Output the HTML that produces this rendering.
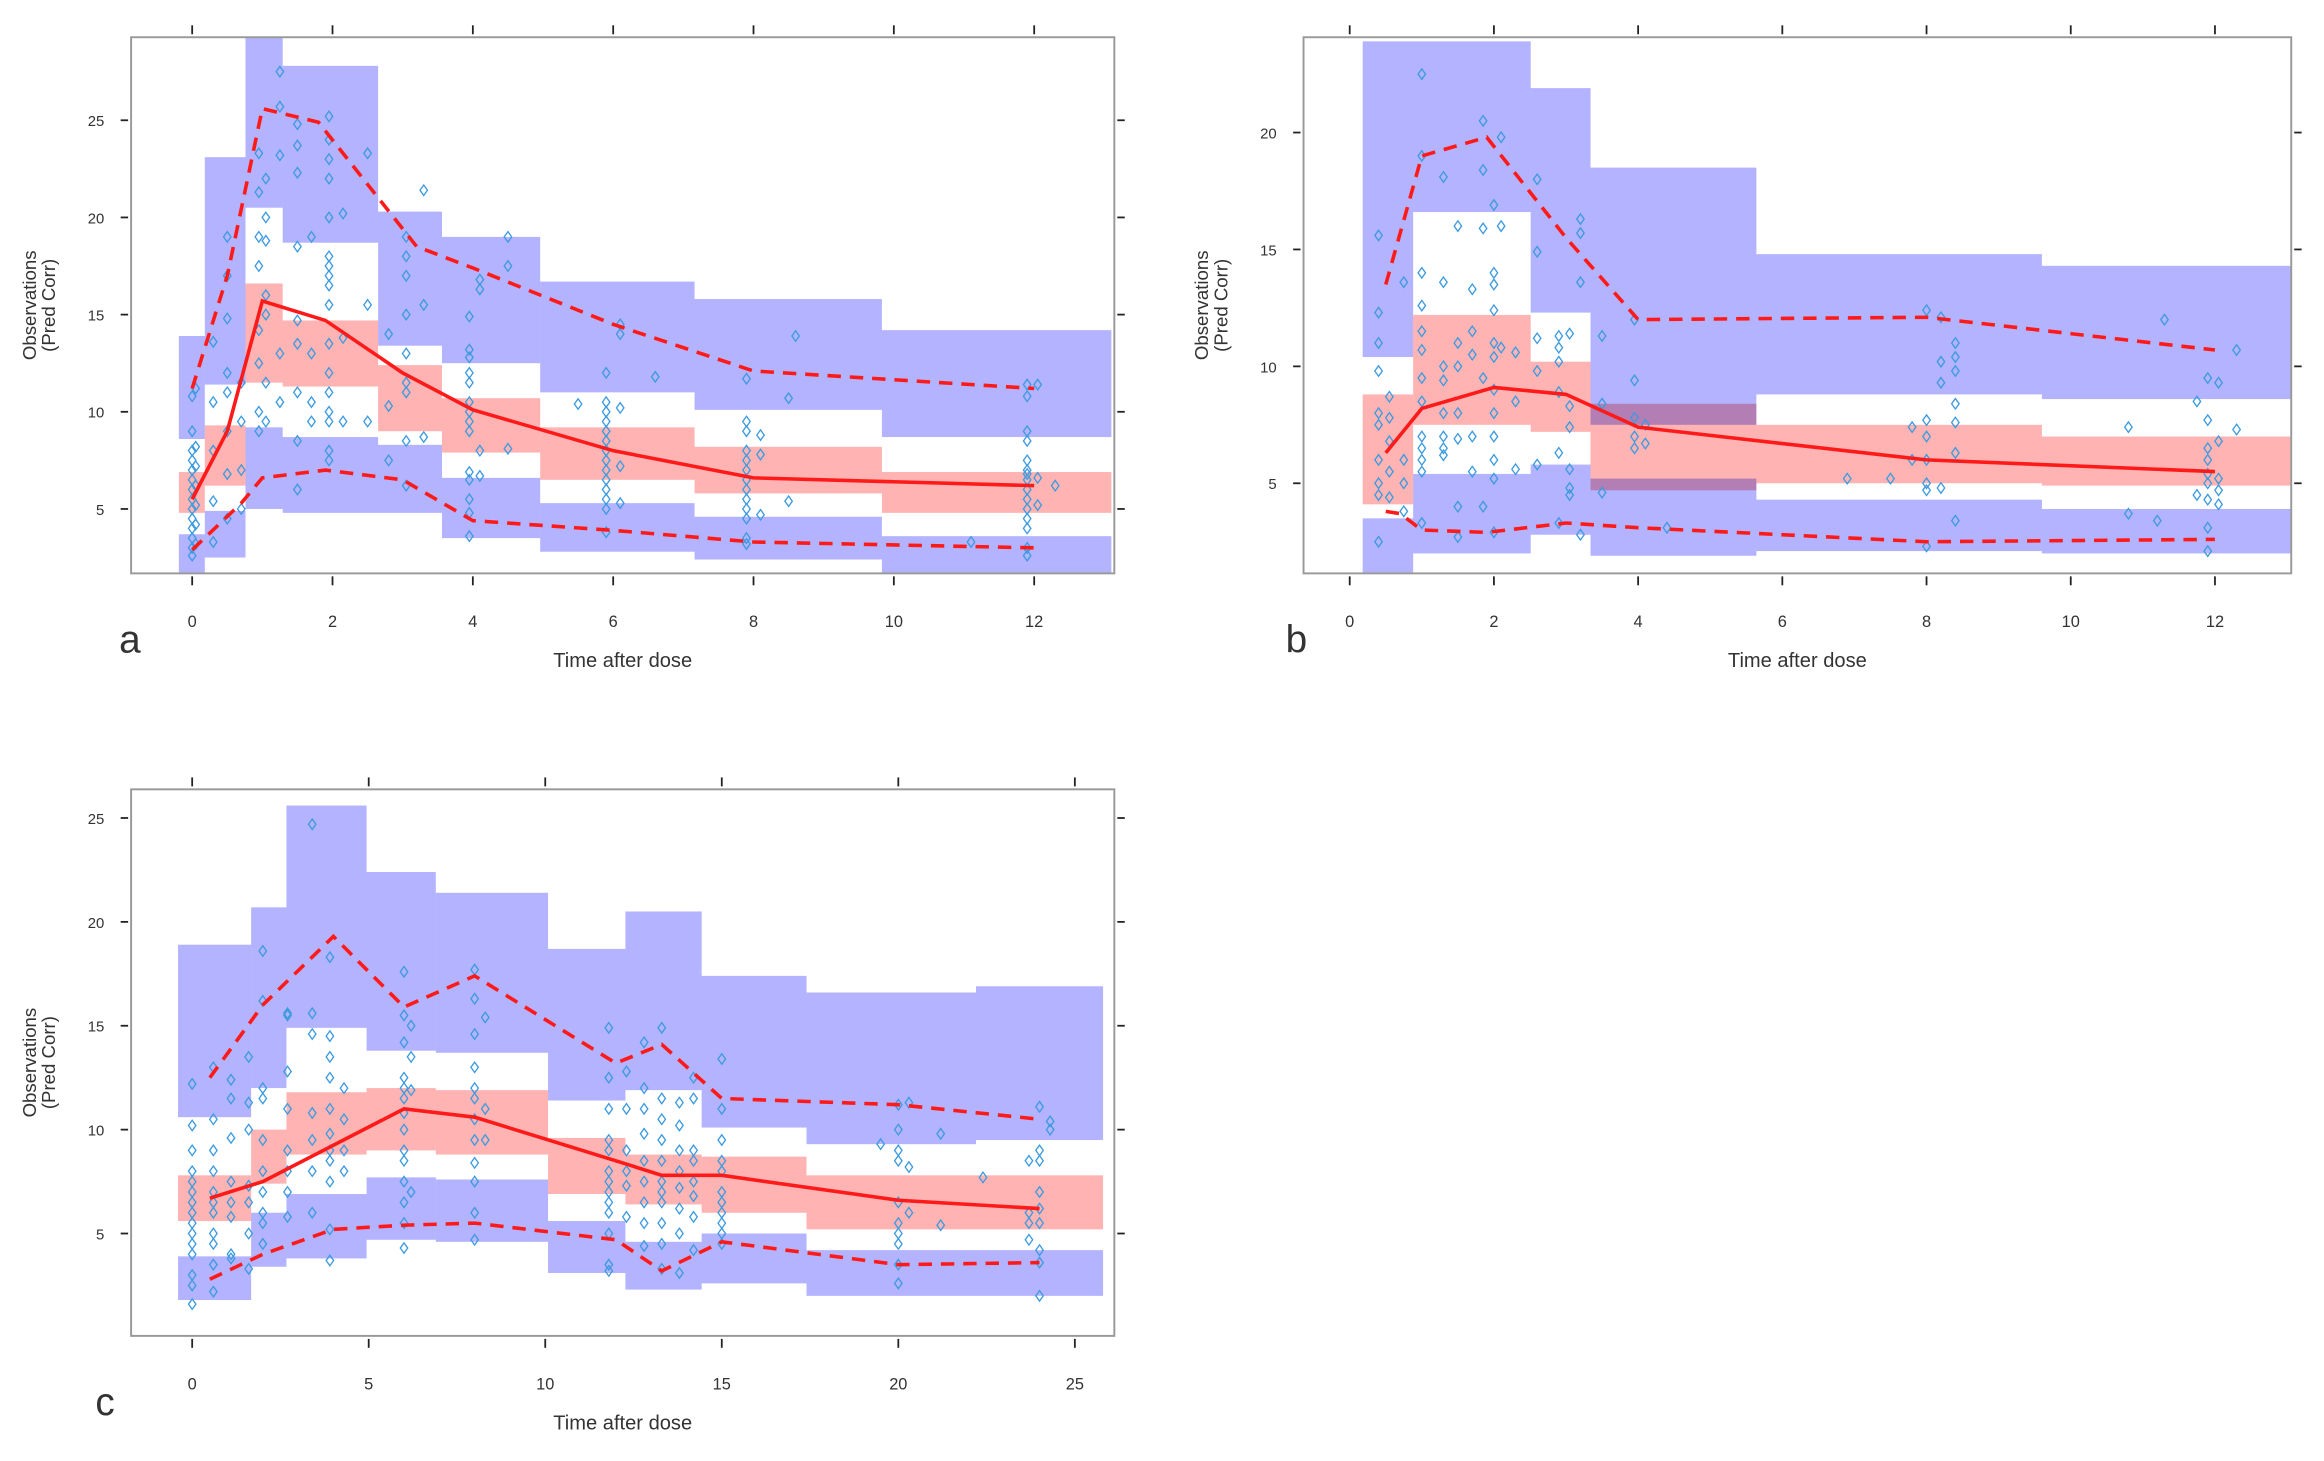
<!DOCTYPE html>
<html><head><meta charset="utf-8"><style>
html,body{margin:0;padding:0;background:#fff;}
svg{display:block;}
text{font-family:"Liberation Sans",Arial,sans-serif;fill:#333;}
</style></head><body>
<svg id="fig" width="2324" height="1461" viewBox="0 0 1560 981" preserveAspectRatio="none" xmlns="http://www.w3.org/2000/svg"></svg>
<script>
// ===== Panel a data =====
const aEdges=[-0.19,0.18,0.76,1.29,2.65,3.56,4.96,7.16,9.83,13.1];
const aUpTop=[13.9,23.1,29.3,27.8,20.3,19.0,16.7,15.8,14.2];
const aUpBot=[8.6,11.4,20.5,18.7,13.4,12.5,11.0,10.1,8.7];
const aMidTop=[6.9,9.3,16.6,14.7,12.4,10.7,9.2,8.2,6.9];
const aMidBot=[4.8,6.2,11.5,11.3,9.0,7.9,6.5,5.8,4.8];
const aLoTop=[3.7,4.9,9.2,8.7,8.3,6.6,5.3,4.6,3.6];
const aLoBot=[1.7,2.5,5.0,4.8,4.8,3.5,2.8,2.4,1.7];
const aMedX=[0,0.5,1,1.9,3,4,6,8,12];
const aMedY=[5.5,9,15.7,14.7,12,10.1,8,6.6,6.2];
const aHiX=[0,0.5,1,1.8,3.2,4,6,8,12];
const aHiY=[11.2,17,25.6,24.9,18.5,17.4,14.5,12.1,11.2];
const aLoX=[0,0.7,1,1.9,3,4,6,8,12];
const aLoY=[2.9,5.3,6.6,7,6.5,4.4,3.9,3.3,3.0];
const aObs=[[0,[2.6,3,3.5,4,4.5,5,5.5,6,6.5,7,7.5,8,9,10.8]],[0.05,[3.2,4.2,5.2,6.2,7.2,8.2,11.2]],
[0.3,[13.6,10.5,8,5.4,3.3]],[0.5,[19,17,14.8,12,11,9,6.8,4.5]],[0.7,[11.5,9.5,7,5]],
[0.95,[23.3,21.3,19,17.5,14.2,12.5,10,9]],[1.05,[22,20,18.8,16,15,11.5,9.5]],[1.25,[27.5,25.7,23.2,13,10.5]],
[1.5,[24.8,23.7,22.3,18.5,14.7,13.5,11,8.5,6]],[1.7,[19,13,10.5,9.5]],[1.95,[25.2,24,23,22,20,18,17.5,17,16.5,15.5,13.5,12,11,10,9.5,8,7.5]],
[2.15,[20.2,9.5,13.8]],[2.5,[23.3,15.5,9.5]],[2.8,[14,10.3,7.5]],[3.05,[19,18,17,15,13,11.5,11,8.5,6.2]],[3.3,[21.4,15.5,8.7]],
[3.95,[14.9,13.2,12.8,12,11.5,10.5,10,9.5,9,6.9,6.5,5.5,4.8,3.6]],[4.1,[16.8,16.3,8,6.7]],[4.5,[19,17.5,8.1]],
[5.9,[12,10.5,10,9.5,9,8.5,8,7.5,7,6.5,6,5.5,5,3.8]],[6.1,[14.5,14,10.2,7.2,5.3]],[6.6,[11.8]],[5.5,[10.4]],
[7.9,[11.7,9.5,9,8,7.5,7,6.5,6,5.5,5,4.5,3.5,3.2]],[8.1,[8.8,7.8,4.7]],[8.5,[10.7,5.4]],[8.6,[13.9]],[11.1,[3.3]],
[11.9,[11.4,10.8,9,8.5,7.5,7,6.8,6.5,6,5.5,5,4.5,4,3,2.6]],[12.05,[11.4,6.6,5.2]],[12.3,[6.2]]];
// ===== Panel b data =====
const bEdges=[0.18,0.88,2.51,3.34,5.64,9.6,13.06];
const bUpTop=[23.9,23.9,21.9,18.5,14.8,14.3];
const bUpBot=[10.4,16.6,12.3,7.5,8.8,8.6];
const bMidTop=[8.8,12.2,10.2,8.4,7.5,7.0];
const bMidBot=[4.1,7.5,7.2,4.7,5.0,4.9];
const bLoTop=[3.5,5.4,5.8,5.2,4.3,3.9];
const bLoBot=[1.0,2.0,2.8,1.9,2.1,2.0];
const bMedX=[0.5,1,2,3,4,8,12];
const bMedY=[6.3,8.2,9.1,8.8,7.4,6,5.5];
const bHiX=[0.5,1,1.9,3,4,8,12];
const bHiY=[13.5,19,19.8,15.5,12,12.1,10.7];
const bLoX=[0.5,0.7,1,1.9,3,4,8,12];
const bLoY=[3.8,3.7,3.0,2.9,3.3,3.1,2.5,2.6];
const bObs=[[0.4,[15.6,12.3,11,9.8,8,7.5,6,5,4.5,2.5]],[0.55,[8.7,7.8,6.8,5.5,4.4]],[0.75,[13.6,6,5,3.8]],
[1,[22.5,19,14,12.6,11.5,10.7,9.5,8.5,7,6.5,6,5.5,3.3]],[1.3,[18.1,13.6,10,9.4,8,7,6.5,6.2]],[1.5,[16,11,10,8,6.9,4,2.7]],
[1.7,[13.3,11.5,10.5,7,5.5]],[1.85,[20.5,18.4,15.9,9.5,4]],[2,[16.9,14,13.5,12.4,11,10.4,9,8,7,6,5.2,2.9]],[2.1,[19.8,16,10.8]],
[2.3,[10.6,8.5,5.6]],[2.6,[18,14.9,11.2,9.8,5.8]],[2.9,[11.3,10.8,10.2,8.9,6.3,3.3]],[3.05,[11.4,8.3,7.4,5.6,4.8,4.5]],
[3.2,[16.3,15.7,13.6,2.8]],[3.5,[11.3,8.4,4.6]],[3.95,[9.4,7.8,7,6.5,12]],[4.1,[7.5,6.7]],[4.4,[3.1]],
[6.9,[5.2]],[7.5,[5.2]],[7.8,[7.4,6]],[8,[12.4,7.7,7,6,5,4.7,2.3]],[8.2,[12.1,10.2,9.3,4.8]],[8.4,[11,9.8,10.4,8.4,7.6,6.3,3.4]],
[10.8,[7.4,3.7]],[11.2,[3.4]],[11.3,[12]],[11.75,[8.5,4.5]],[11.9,[9.5,7.7,6.5,6,5.4,5,4.3,3.1,2.1]],[12.05,[9.3,6.8,5.2,4.7,4.1]],[12.3,[10.7,7.3]]];
// ===== Panel c data =====
const cEdges=[-0.4,1.67,2.67,4.94,6.9,10.08,12.27,14.43,17.4,22.2,25.8];
const cUpTop=[18.9,20.7,25.6,22.4,21.4,18.7,20.5,17.4,16.6,16.9];
const cUpBot=[10.6,12.0,14.9,13.8,13.7,11.4,11.9,10.1,9.3,9.5];
const cMidTop=[7.8,10.0,11.8,12.0,11.9,9.6,8.8,8.7,7.8,7.8];
const cMidBot=[5.6,7.4,8.8,9.0,8.8,6.9,6.4,6.0,5.2,5.2];
const cLoTop=[3.9,6.0,6.9,7.7,7.6,5.6,4.6,5.0,4.2,4.2];
const cLoBot=[1.8,3.4,3.8,4.7,4.6,3.1,2.3,2.6,2.0,2.0];
const cMedX=[0.5,2,6,8,12,13.3,15,20,24];
const cMedY=[6.7,7.5,11,10.6,8.5,7.8,7.8,6.6,6.2];
const cHiX=[0.5,2,4,6,8,12,13.3,15,20,24];
const cHiY=[12.5,16,19.3,15.9,17.4,13.2,14.1,11.5,11.2,10.5];
const cLoX=[0.5,2,4,6,8,12,13.3,15,20,24];
const cLoY=[2.8,4,5.2,5.4,5.5,4.7,3.2,4.6,3.5,3.6];
const cObs=[[0,[12.2,10.2,9,8,7.5,7,6.5,6,5.5,5,4.5,4,3,2.5,1.6]],[0.6,[13,10.5,9,8,7,6.5,6,5,4.5,3.5,2.2]],[1.1,[12.4,11.5,9.6,7.5,6.5,5.8,4,3.8]],
[1.6,[13.5,11.3,10,7.3,6.5,5,3.3]],[2,[18.6,16.2,12,11.5,9.5,8,7,6,5.5,4.5]],[2.7,[15.6,15.5,12.8,11,9,8,7,5.8]],
[3.4,[24.7,15.6,14.6,10.8,9.5,8,6]],[3.9,[18.3,14.5,13.5,12.5,11,9.8,9,8.5,7.5,5.2,3.7]],[4.3,[12,10.5,9,8]],
[6,[17.6,15.5,14.2,12.5,12,11.5,10.8,10,9,8.5,7.5,6.5,5.5,4.3]],[6.2,[15,13.5,11.9,7]],[8,[17.7,16.3,14.6,13,12,11.5,10.5,9.5,8.4,7.5,6,4.7]],[8.3,[15.4,11,9.5]],
[11.8,[14.9,12.5,11,9.5,9,8,7.5,7,6.5,6,5,3.5,3.2]],[12.3,[12.8,11,9,8,7.3,5.8]],[12.8,[14.2,12,11,9.8,8.5,7.5,6.5,5.5,4.4]],
[13.3,[14.9,11.5,10.5,9.5,8.5,7.5,7,6.5,5.5,4.5,3.3]],[13.8,[11.3,10.2,9,8,7.2,6.2,5,3.1]],[14.2,[12.5,11.5,9,8.5,7.5,6.8,5.8,4.2]],
[15,[13.4,11,9.5,8.5,8,7,6.5,6,5.5,5,4.5]],[19.5,[9.3]],[20,[11.2,10,9,8.5,6.5,5.5,5,4.5,3.5,2.6]],[20.3,[8.2,6,11.3]],[21.2,[9.8,5.4]],[22.4,[7.7]],
[23.7,[8.5,6,5.5,4.7]],[24,[11.1,9,8.5,7,6.2,5.5,4.2,3.6,2]],[24.3,[10.4,10]]];

const NS="http://www.w3.org/2000/svg";
const svg=document.getElementById('fig');
function mk(tag,attrs,parent){const e=document.createElementNS(NS,tag);for(const k in attrs)e.setAttribute(k,attrs[k]);(parent||svg).appendChild(e);return e;}

function panel(cfg){
  const g=mk('g',{});
  
  
  const X=v=>cfg.x0+(v-cfg.xmin)*cfg.xs, Y=v=>cfg.y0-(v-cfg.ymin)*cfg.ys;
  const clipId='clip'+cfg.letter;
  const cp=mk('clipPath',{id:clipId},g);mk('rect',{x:cfg.L,y:cfg.T,width:cfg.R-cfg.L,height:cfg.B-cfg.T},cp);
  const bands=mk('g',{'clip-path':'url(#'+clipId+')'},g);
  
  
  const E=cfg.edges;
  for(let i=0;i<E.length-1;i++){
    const x1=X(E[i]),x2=X(E[i+1]);
    [[cfg.upT,cfg.upB,'#b3b3ff','upper-pi'],[cfg.loT,cfg.loB,'#b3b3ff','lower-pi'],[cfg.mT,cfg.mB,'#ffb3b3','median-pi']].forEach(s=>{
      const r=mk('rect',{x:x1,y:Y(s[0][i]),width:x2-x1,height:Y(s[1][i])-Y(s[0][i]),fill:s[2],style:'mix-blend-mode:multiply'},bands);
      
      
    });
  }
  const pts=mk('g',{},g);
  
  
  cfg.obs.forEach(grp=>grp[1].forEach(v=>{
    const cx=X(grp[0]),cy=Y(v);
    const p=mk('path',{d:`M${cx},${cy-3.5}L${cx+2.5},${cy}L${cx},${cy+3.5}L${cx-2.5},${cy}Z`,fill:'none',stroke:'#3d9be0','stroke-width':0.9},pts);
    
    
  }));
  const line=(xs,ys,name,dash)=>{
    const d=xs.map((v,i)=>(i?'L':'M')+X(v)+','+Y(ys[i])).join('');
    const l=mk('path',{d,fill:'none',stroke:'#ff1a1a','stroke-width':2.4,'stroke-dasharray':dash||'none'},g);
    
    
  };
  line(cfg.medX,cfg.medY,'median-line');
  line(cfg.hiX,cfg.hiY,'upper-percentile-line','9,6');
  line(cfg.loX,cfg.loY,'lower-percentile-line','9,6');
  const box=mk('rect',{x:cfg.L,y:cfg.T,width:cfg.R-cfg.L,height:cfg.B-cfg.T,fill:'none',stroke:'#999','stroke-width':1.3},g);
  
  
  cfg.xt.forEach(t=>{
    const x=X(t);
    mk('line',{x1:x,x2:x,y1:cfg.B+2,y2:cfg.B+8,stroke:'#222','stroke-width':1.2},g);
    mk('line',{x1:x,x2:x,y1:cfg.T-2,y2:cfg.T-8,stroke:'#222','stroke-width':1.2},g);
    const tx=mk('text',{x:x,y:cfg.B+36,'font-size':11,'text-anchor':'middle'},g);tx.textContent=t;
    
    
  });
  cfg.yt.forEach(t=>{
    const y=Y(t);
    mk('line',{x1:cfg.L-2,x2:cfg.L-7,y1:y,y2:y,stroke:'#222','stroke-width':1.2},g);
    mk('line',{x1:cfg.R+2,x2:cfg.R+7,y1:y,y2:y,stroke:'#222','stroke-width':1.2},g);
    const tx=mk('text',{x:cfg.L-18,y:y+4,'font-size':10,'text-anchor':'end'},g);tx.textContent=t;
    
    
  });
  const xt=mk('text',{x:(cfg.L+cfg.R)/2,y:cfg.B+63,'font-size':13.5,'text-anchor':'middle'},g);xt.textContent='Time after dose';
  
  
  const cy=(cfg.T+cfg.B)/2;
  const yt=mk('text',{transform:`translate(${cfg.L-64},${cy}) rotate(-90)`,'font-size':12.5,'text-anchor':'middle'},g);
  
  
  const s1=mk('tspan',{x:0,dy:0},yt);s1.textContent='Observations';
  const s2=mk('tspan',{x:0,dy:13},yt);s2.textContent='(Pred Corr)';
  const lt=mk('text',{x:cfg.letX,y:cfg.B+53,'font-size':26,fill:'#111'},g);lt.textContent=cfg.letter;
  
  
}

panel({letter:'a',letX:80,L:88,R:748,T:25,B:385,x0:129,xmin:0,xs:47.1,y0:407,ymin:0,ys:13.05,
 edges:aEdges,upT:aUpTop,upB:aUpBot,mT:aMidTop,mB:aMidBot,loT:aLoTop,loB:aLoBot,
 medX:aMedX,medY:aMedY,hiX:aHiX,hiY:aHiY,loX:aLoX,loY:aLoY,obs:aObs,xt:[0,2,4,6,8,10,12],yt:[5,10,15,20,25]});
panel({letter:'b',letX:863,L:875,R:1538,T:25,B:385,x0:906,xmin:0,xs:48.4,y0:403,ymin:0,ys:15.7,
 edges:bEdges,upT:bUpTop,upB:bUpBot,mT:bMidTop,mB:bMidBot,loT:bLoTop,loB:bLoBot,
 medX:bMedX,medY:bMedY,hiX:bHiX,hiY:bHiY,loX:bLoX,loY:bLoY,obs:bObs,xt:[0,2,4,6,8,10,12],yt:[5,10,15,20]});
panel({letter:'c',letX:64,L:88,R:748,T:530,B:897,x0:129,xmin:0,xs:23.7,y0:898,ymin:0,ys:13.95,
 edges:cEdges,upT:cUpTop,upB:cUpBot,mT:cMidTop,mB:cMidBot,loT:cLoTop,loB:cLoBot,
 medX:cMedX,medY:cMedY,hiX:cHiX,hiY:cHiY,loX:cLoX,loY:cLoY,obs:cObs,xt:[0,5,10,15,20,25],yt:[5,10,15,20,25]});
</script>
</body></html>
